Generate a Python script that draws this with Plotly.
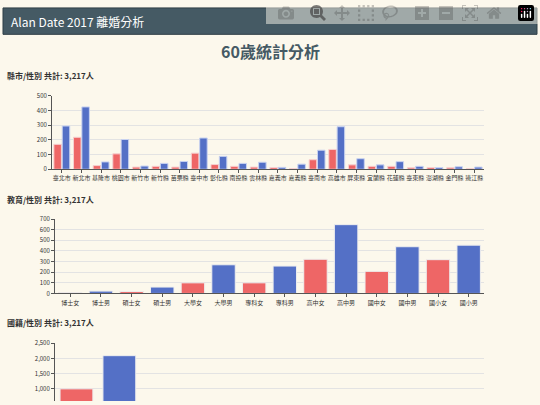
import plotly.graph_objects as go

W, H = 540, 405
BG = "#fcf8ec"
RED = "#ee6666"
BLUE = "#5470c6"

cities = ["臺北市","新北市","基隆市","桃園市","新竹市","新竹縣","苗栗縣","臺中市","彰化縣","南投縣","雲林縣",
          "嘉義市","嘉義縣","臺南市","高雄市","屏東縣","宜蘭縣","花蓮縣","臺東縣","澎湖縣","金門縣","連江縣"]
city_f = [170,218,25,105,15,20,15,110,32,20,15,12,5,65,135,30,20,20,10,12,10,3]
city_m = [295,425,50,203,22,40,53,213,88,40,48,13,35,130,290,72,30,52,20,12,17,15]

edu = ["博士女","博士男","碩士女","碩士男","大學女","大學男","專科女","專科男","高中女","高中男","國中女","國中男","國小女","國小男"]
edu_v = [8,22,18,60,100,270,100,258,322,648,208,440,318,455]

nat = ["本國女","本國男","大陸港澳女","大陸港澳男","東南亞女","東南亞男","日本女","日本男","其他女","其他男"]
nat_v = [990,2090,40,20,30,10,5,5,15,12]

def yd(top, bot):
    return [1 - bot / H, 1 - top / H]

fig = go.Figure()
fig.add_bar(x=cities, y=city_f, marker_color=RED, marker_line=dict(color="#f6d0d0", width=1), xaxis="x", yaxis="y", showlegend=False)
fig.add_bar(x=cities, y=city_m, marker_color=BLUE, marker_line=dict(color="#c8d2f0", width=1), xaxis="x", yaxis="y", showlegend=False)
fig.add_bar(x=edu, y=edu_v, marker_color=[RED if i % 2 == 0 else BLUE for i in range(len(edu))],
            marker_line=dict(color="#eeeeee", width=1), xaxis="x2", yaxis="y2", showlegend=False)
fig.add_bar(x=nat, y=nat_v, marker_color=[RED if i % 2 == 0 else BLUE for i in range(len(nat))],
            marker_line=dict(color="#eeeeee", width=1), xaxis="x3", yaxis="y3", showlegend=False)

ax = dict(showline=True, linecolor="#555", ticks="outside", ticklen=3, tickcolor="#555",
          tickfont=dict(size=6, color="#333"), showgrid=False)
ay = dict(showline=True, linecolor="#555", ticks="outside", ticklen=3, tickcolor="#555",
          tickfont=dict(size=6, color="#333"), gridcolor="#e3e3e3", zeroline=False)
fig.update_layout(
    width=W, height=H, margin=dict(l=0, r=0, t=0, b=0),
    paper_bgcolor=BG, plot_bgcolor=BG, barmode="group", bargap=0.15, bargroupgap=0.1,
    font=dict(family="Noto Sans CJK TC"),
    xaxis=dict(ax, domain=[52/W, 484/W], anchor="y", tickangle=0),
    yaxis=dict(ay, domain=yd(93, 168), range=[0, 500], dtick=100, anchor="x"),
    xaxis2=dict(ax, domain=[55/W, 484/W], anchor="y2", tickangle=0),
    yaxis2=dict(ay, domain=yd(219, 295), range=[0, 700], dtick=100, anchor="x2"),
    xaxis3=dict(ax, domain=[55/W, 484/W], anchor="y3", showticklabels=False, showline=False, ticks=""),
    yaxis3=dict(ay, domain=yd(346, 405), range=[587, 2500], dtick=500, tickformat=",", anchor="x3"),
    shapes=[dict(type="rect", xref="paper", yref="paper", x0=3/W, x1=537/W,
                 y0=1-30/H, y1=1-3/H, fillcolor="#455a64", line=dict(color="#2f3f46", width=1))],
    annotations=[
        dict(text="Alan Date 2017 離婚分析", xref="paper", yref="paper", x=9/W, y=1-16.5/H,
             xanchor="left", yanchor="middle", showarrow=False, font=dict(size=12, color="white")),
        dict(text="<b>60歲統計分析</b>", xref="paper", yref="paper", x=0.5, y=1-47/H,
             xanchor="center", yanchor="middle", showarrow=False, font=dict(size=16, color="#455a64")),
        dict(text="<b>縣市/性別 共計: 3,217人</b>", xref="paper", yref="paper", x=5/W, y=1-72/H,
             xanchor="left", yanchor="middle", showarrow=False, font=dict(size=8, color="#333")),
        dict(text="<b>教育/性別 共計: 3,217人</b>", xref="paper", yref="paper", x=5/W, y=1-199/H,
             xanchor="left", yanchor="middle", showarrow=False, font=dict(size=8, color="#333")),
        dict(text="<b>國籍/性別 共計: 3,217人</b>", xref="paper", yref="paper", x=5/W, y=1-325/H,
             xanchor="left", yanchor="middle", showarrow=False, font=dict(size=8, color="#333")),
    ],
)
fig.write_html("out.html", post_script="document.body.style.margin='0';document.body.style.overflow='hidden';document.body.style.background='" + BG + "';")
